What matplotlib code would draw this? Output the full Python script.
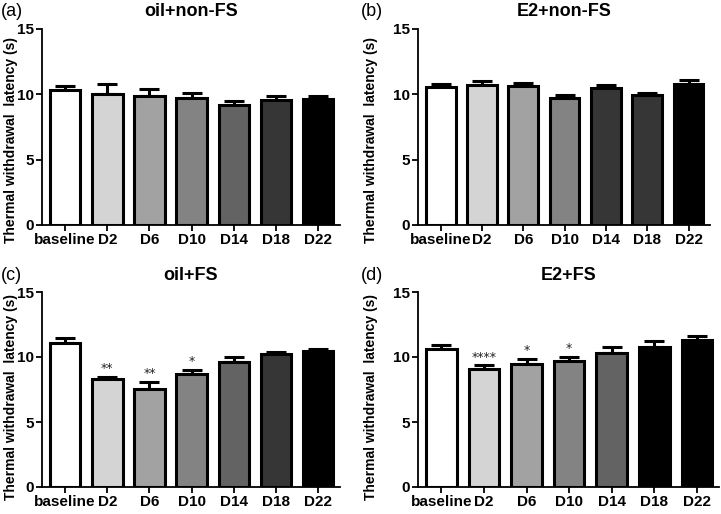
import matplotlib
matplotlib.use('Agg')
import matplotlib.pyplot as plt
import numpy as np

days = ['baseline', 'D2', 'D6', 'D10', 'D14', 'D18', 'D22']

titles = ['oil+non-FS', 'E2+non-FS', 'oil+FS', 'E2+FS']
panel_labels = ['(a)', '(b)', '(c)', '(d)']

means_a = [10.3, 10.05, 9.9, 9.7, 9.2, 9.6, 9.65]
sem_a = [0.35, 0.75, 0.5, 0.4, 0.3, 0.3, 0.25]
means_b = [10.55, 10.7, 10.6, 9.75, 10.5, 9.95, 10.8]
sem_b = [0.25, 0.3, 0.3, 0.2, 0.2, 0.15, 0.27]
means_c = [11.05, 8.3, 7.55, 8.7, 9.6, 10.2, 10.45]
sem_c = [0.4, 0.2, 0.55, 0.3, 0.4, 0.2, 0.15]
means_d = [10.65, 9.05, 9.45, 9.7, 10.3, 10.8, 11.3]
sem_d = [0.25, 0.3, 0.4, 0.3, 0.45, 0.45, 0.3]

stars_c = ['', '**', '**', '*', '', '', '']
stars_d = ['', '****', '*', '*', '', '', '']

colors_a = ['#ffffff', '#d4d4d4', '#a2a2a2', '#838383', '#636363', '#363636', '#000000']
colors_b = ['#ffffff', '#d4d4d4', '#a2a2a2', '#838383', '#363636', '#363636', '#000000']
colors_c = colors_a
colors_d = ['#ffffff', '#d4d4d4', '#a2a2a2', '#838383', '#636363', '#000000', '#000000']

W, H = 721, 514
fig = plt.figure(figsize=(W / 100, H / 100), dpi=100)

# axes boxes in pixels: left, top(15), right, bottom(0), panel origin x, y
boxes = [(42, 29, 340, 225, 0, 0), (418, 29, 710, 225, 360, 0),
         (42, 292, 340, 487, 0, 257), (418, 292, 719, 487, 360, 257)]
all_means = [means_a, means_b, means_c, means_d]
all_sem = [sem_a, sem_b, sem_c, sem_d]
all_colors = [colors_a, colors_b, colors_c, colors_d]
all_stars = [None, None, stars_c, stars_d]

narrow = ['Liberation Sans Narrow', 'Liberation Sans', 'DejaVu Sans']
arial = ['Liberation Sans', 'DejaVu Sans']

x = np.arange(len(days))
for i in range(4):
    l, t, r, b, px, py = boxes[i]
    ax = fig.add_axes([l / W, (H - b) / H, (r - l) / W, (b - t) / H])
    ax.bar(x, all_means[i], width=0.72, color=all_colors[i], edgecolor='black',
           linewidth=2.2, zorder=2)
    ax.errorbar(x, all_means[i], yerr=[np.zeros(len(days)), all_sem[i]], fmt='none',
                ecolor='black', elinewidth=2.2, capsize=7, capthick=2.2, zorder=1)
    if all_stars[i] is not None:
        for xi, m, s, st in zip(x, all_means[i], all_sem[i], all_stars[i]):
            if st:
                ax.text(xi, m + s + 0.15, st, ha='center', va='bottom',
                        fontsize=9, color='#222222')
    ax.set_xlim(-0.55, 6.52)
    ax.set_ylim(0, 15)
    ax.set_yticks([0, 5, 10, 15])
    ax.set_xticks(x)
    ax.set_xticklabels(days)
    for lab in ax.get_xticklabels() + ax.get_yticklabels():
        lab.set_fontfamily(narrow)
        lab.set_fontweight('bold')
        lab.set_fontsize(11)
    ax.spines['top'].set_visible(False)
    ax.spines['right'].set_visible(False)
    ax.spines['left'].set_linewidth(1.3)
    ax.spines['bottom'].set_linewidth(1.3)
    ax.tick_params(axis='both', direction='out', length=4, width=1.3, pad=2)
    ax.set_ylabel('Thermal withdrawal  latency (s)', fontsize=10, fontweight='bold',
                  family=arial)
    ax.yaxis.set_label_coords((px + 18 - l) / (r - l), (b - (py + 140)) / (b - t))
    ax.set_title(titles[i], fontsize=13, fontweight='bold', family=arial, pad=9)
    fig.text((px + 1) / W, 1 - (t - 17) / H, panel_labels[i], fontsize=13,
             family=arial, va='center', ha='left')

fig.savefig('out.png', dpi=100)
